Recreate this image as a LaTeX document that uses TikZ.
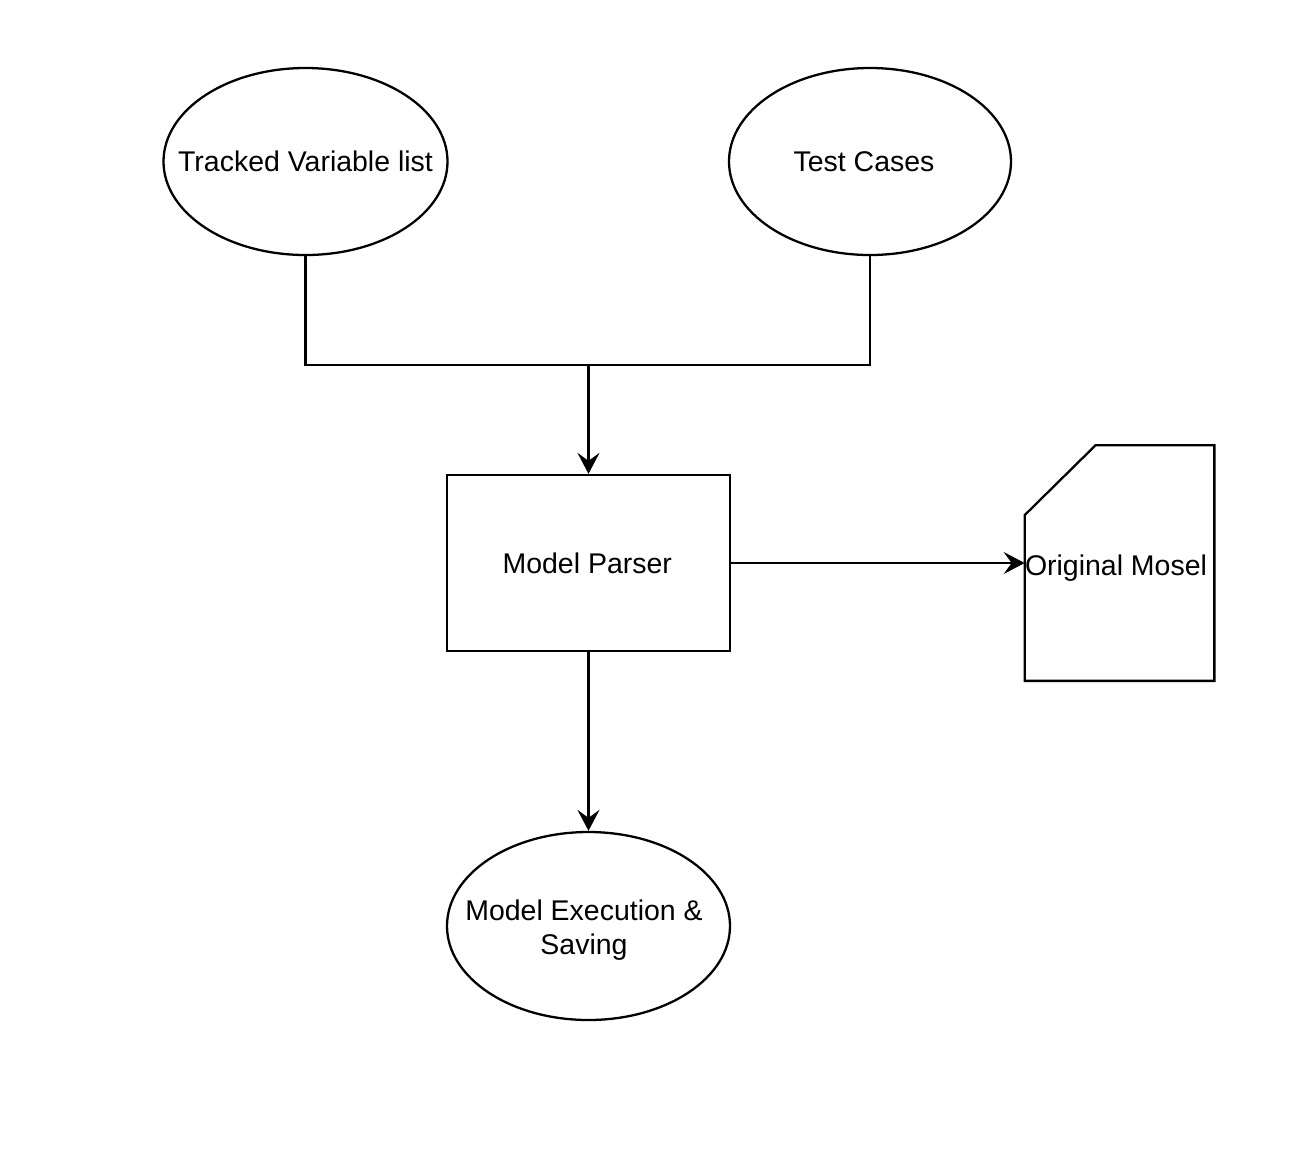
\documentclass[tikz,border=0pt]{standalone}
\usepackage{fontspec}
\setmainfont{Liberation Sans}
\usetikzlibrary{shapes.geometric,arrows.meta}

\begin{document}
\begin{tikzpicture}[
  every node/.style={font=\fontsize{16.2}{19.2}\selectfont},
  blob/.style={draw, ellipse, line width=1.3pt, inner sep=0pt, minimum width=5.68cm, minimum height=3.74cm},
  box/.style={draw, rectangle, line width=1.3pt, inner sep=0pt, minimum width=5.66cm, minimum height=3.52cm},
  wire/.style={line width=1.4pt},
  flow/.style={wire, -{Stealth[length=0.42cm, width=0.44cm, inset=0.16cm]}}
]
\useasboundingbox (0,0) rectangle (26.2,-23.08);
\node [blob] (tracked) at (6.11,-3.23) {\makebox[0pt]{Tracked Variable list}};
\node [blob, minimum width=5.64cm] (tests) at (17.4,-3.23) {\makebox[0pt]{\hspace{-0.24cm}Test Cases}};
\node [box] (parser) at (11.77,-11.26) {\makebox[0pt]{\hspace{-0.05cm}Model Parser}};
\node [minimum width=3.78cm, minimum height=4.7cm, inner sep=0pt] (mosel) at (22.39,-11.26) {\makebox[0pt]{\hspace{-0.14cm}\raisebox{-0.1cm}[\height][\depth]{Original Mosel}}};
\node [blob, minimum width=5.66cm, minimum height=3.76cm] (exec) at (11.77,-18.52) {\makebox[0pt]{\hspace{-0.18cm}\raisebox{-0.1cm}[\height][\depth]{\begin{tabular}{@{}c@{}}Model Execution \&\\Saving\end{tabular}}}};
\coordinate (join) at (11.77,-7.3);
% card outline of the mosel file
\draw [line width=1.3pt] ([xshift=1.42cm]mosel.north west) -- (mosel.north east) -- (mosel.south east) -- (mosel.south west) -- ([yshift=-1.4cm]mosel.north west) -- cycle;
\draw [wire] (tracked.south) |- (join) -| (tests.south);
\draw [flow] (join) -- (parser.north);
\draw [flow] (parser.east) -- (mosel.west);
\draw [flow] (parser.south) -- (exec.north);
\end{tikzpicture}
\end{document}
